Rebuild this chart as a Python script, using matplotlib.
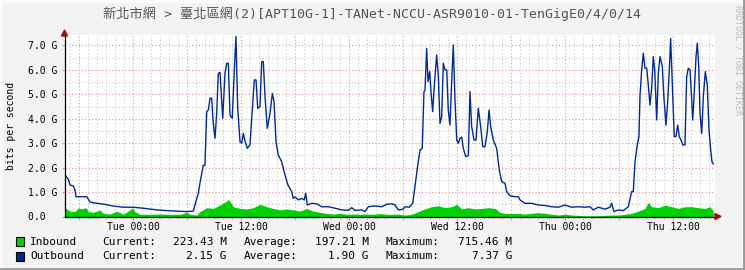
import numpy as np
import matplotlib
matplotlib.use("Agg")
import matplotlib.pyplot as plt
from matplotlib.patches import Rectangle, Polygon
from matplotlib.lines import Line2D
from matplotlib.ticker import MultipleLocator, FuncFormatter

# hours relative to Tue 00:00, values in Gbit/s
out_t = [-7.67, -7.19, -7.0, -6.63, -6.44, -6.33, -5.14, -4.78, -4.41, -3.33, -2.22, -1.11,
         0.0, 1.11, 2.67, 3.78, 4.89, 6.0, 6.7, 6.94, 7.26, 7.44, 7.81, 8.0, 8.19, 8.37,
         8.56, 8.74, 8.92, 9.11, 9.3, 9.48, 9.67, 9.97, 10.22, 10.41, 10.59, 10.78, 11.03,
         11.26, 11.44, 11.63, 11.89, 12.08, 12.26, 12.44, 12.7, 13.0, 13.3, 13.48, 13.67,
         13.86, 14.11, 14.3, 14.48, 14.67, 14.92, 15.22, 15.48, 15.67, 15.89, 16.14, 16.52,
         16.89, 17.22, 17.63, 17.81, 18.0, 18.37, 18.74, 19.03, 19.19, 19.37, 19.86, 20.41,
         20.97, 21.7, 22.44, 23.19, 23.92, 24.3, 24.67, 25.41, 25.78, 26.14, 26.89, 27.63,
         28.19, 28.74, 29.11, 29.48, 30.03, 30.22, 30.7, 31.08, 31.33, 31.59, 31.89, 32.14,
         32.33, 32.44, 32.63, 32.78, 32.97, 33.11, 33.3, 33.44, 33.74, 33.92, 34.11, 34.3,
         34.48, 34.67, 34.86, 35.03, 35.22, 35.41, 35.59, 35.78, 35.97, 36.14, 36.33, 36.52,
         36.7, 36.97, 37.26, 37.44, 37.63, 37.89, 38.11, 38.37, 38.63, 38.86, 39.11, 39.37,
         39.56, 39.74, 40.03, 40.41, 40.7, 40.97, 41.33, 41.52, 41.89, 42.44, 42.81, 43.0,
         43.56, 44.3, 45.03, 45.78, 46.52, 47.26, 48.0, 48.74, 49.48, 50.22, 50.78, 51.14,
         51.7, 52.44, 53.0, 53.19, 53.44, 53.92, 54.48, 55.03, 55.41, 55.59, 55.78, 56.03,
         56.22, 56.33, 56.52, 56.7, 56.89, 57.08, 57.26, 57.44, 57.63, 57.81, 57.97, 58.19,
         58.37, 58.56, 58.81, 59.0, 59.22, 59.41, 59.59, 59.74, 59.92, 60.03, 60.14, 60.33,
         60.52, 60.7, 60.89, 61.08, 61.33, 61.52, 61.7, 61.89, 62.08, 62.19, 62.33, 62.56,
         62.7, 62.86, 63.0, 63.19, 63.37, 63.59, 63.81, 64.0, 64.19, 64.33, 64.48]
out_v = [1.74, 1.53, 1.29, 1.25, 1.08, 0.81, 0.81, 0.6, 0.56, 0.51, 0.43, 0.38,
         0.38, 0.34, 0.27, 0.24, 0.22, 0.2, 0.22, 0.55, 0.95, 1.36, 2.1, 2.1, 4.29, 4.36,
         4.84, 4.84, 3.81, 3.2, 4.22, 5.86, 5.9, 4.02, 5.86, 6.27, 6.27, 4.15, 4.02,
         6.0, 7.37, 4.49, 3.06, 3.0, 3.4, 3.1, 2.79, 2.94, 4.56, 5.59, 5.59,
         4.43, 4.49, 6.34, 6.34, 4.9, 3.61, 4.2, 5.04, 4.7, 3.06, 2.52, 2.24,
         1.7, 1.29, 1.02, 0.74, 0.8, 0.68, 0.74, 0.68, 0.95, 0.47, 0.54, 0.52,
         0.4, 0.4, 0.34, 0.27, 0.25, 0.36, 0.25, 0.27, 0.2, 0.4, 0.43, 0.4,
         0.5, 0.52, 0.47, 0.27, 0.3, 0.4, 0.38, 0.54, 1.22, 1.97, 2.72, 2.79,
         5.11, 5.15, 6.88, 5.52, 5.93, 5.11, 4.29, 5.15, 6.61, 5.8, 3.81, 4.1,
         6.27, 6.0, 6.0, 4.36, 3.74, 5.52, 7.02, 4.77, 3.13, 3.0, 3.2, 3.25,
         2.79, 2.45, 2.5, 5.11, 3.68, 3.13, 3.13, 4.43, 3.68, 2.86, 2.86, 3.47,
         4.36, 3.68, 3.13, 2.79, 1.9, 1.43, 1.36, 1.02, 0.85, 0.81, 0.81, 0.68,
         0.54, 0.54, 0.47, 0.45, 0.4, 0.38, 0.47, 0.38, 0.4, 0.38, 0.4, 0.27,
         0.38, 0.3, 0.38, 0.54, 0.2, 0.27, 0.24, 0.4, 1.02, 1.02, 2.24, 2.93,
         3.27, 4.9, 6.0, 6.68, 6.07, 6.07, 5.38, 4.56, 5.25, 6.54, 6.0, 3.95,
         5.86, 6.54, 6.14, 4.84, 3.74, 4.7, 6.0, 7.29, 5.52, 4.49, 3.27, 3.27,
         3.74, 3.27, 3.13, 2.93, 2.93, 5.72, 6.07, 6.0, 4.77, 3.95, 4.84, 6.54,
         7.09, 6.14, 4.22, 3.4, 4.9, 5.93, 5.38, 3.54, 2.72, 2.24, 2.15]

in_t = [-7.67, -7.37, -7.0, -6.44, -6.08, -5.81, -5.52, -5.22, -4.97, -4.41, -3.67, -3.3,
        -2.56, -1.81, -1.08, -0.33, -0.03, 0.22, 0.78, 1.89, 3.0, 4.11, 5.22, 5.97, 6.33,
        7.08, 7.44, 8.19, 8.92, 9.67, 10.41, 10.59, 11.15, 11.89, 12.63, 13.37, 14.11,
        14.85, 15.59, 16.33, 17.08, 17.81, 18.56, 19.3, 20.03, 20.78, 21.52, 22.26, 23.0,
        23.74, 24.48, 25.22, 25.96, 26.7, 27.44, 28.19, 28.74, 29.48, 30.22, 30.97, 31.7,
        32.44, 33.19, 33.92, 34.67, 35.41, 35.97, 36.52, 37.26, 38.0, 38.74, 39.48, 40.22,
        40.78, 41.33, 42.08, 42.81, 43.56, 44.3, 45.03, 45.78, 46.52, 47.26, 48.0, 48.74,
        50.22, 51.7, 53.19, 53.92, 54.67, 55.41, 56.15, 56.89, 57.26, 57.63, 58.37, 59.11,
        59.85, 60.59, 61.33, 62.08, 62.82, 63.56, 64.11, 64.48]
in_v = [0.33, 0.31, 0.22, 0.2, 0.36, 0.31, 0.33, 0.36, 0.2, 0.17, 0.27, 0.13,
        0.1, 0.22, 0.09, 0.27, 0.36, 0.2, 0.09, 0.09, 0.1, 0.09, 0.09, 0.17, 0.09,
        0.06, 0.2, 0.36, 0.33, 0.47, 0.63, 0.7, 0.4, 0.33, 0.31, 0.36, 0.5,
        0.4, 0.33, 0.27, 0.31, 0.27, 0.22, 0.33, 0.22, 0.17, 0.13, 0.1, 0.13,
        0.09, 0.1, 0.09, 0.1, 0.09, 0.12, 0.09, 0.09, 0.1, 0.06, 0.09, 0.2,
        0.31, 0.4, 0.44, 0.36, 0.4, 0.5, 0.31, 0.36, 0.31, 0.33, 0.36, 0.33,
        0.17, 0.13, 0.12, 0.13, 0.1, 0.13, 0.16, 0.13, 0.09, 0.06, 0.09, 0.06,
        0.03, 0.03, 0.06, 0.06, 0.09, 0.13, 0.22, 0.33, 0.58, 0.4, 0.36, 0.47,
        0.4, 0.33, 0.4, 0.4, 0.36, 0.33, 0.4, 0.22]

day_labels = {0: "Tue 00:00", 12: "Tue 12:00", 24: "Wed 00:00",
              36: "Wed 12:00", 48: "Thu 00:00", 60: "Thu 12:00"}

title = "新北市網 > 臺北區網(2)[APT10G-1]-TANet-NCCU-ASR9010-01-TenGigE0/4/0/14"
legend_rows = [
    ("Inbound", "#00CF00", "223.43 M", "197.21 M", "715.46 M"),
    ("Outbound", "#002A97", "2.15 G", "1.90 G", "7.37 G"),
]

W, H = 745, 270
MONO = "DejaVu Sans Mono"


def fx(x):
    return x / W


def fy(y):
    return 1 - y / H


fig = plt.figure(figsize=(W / 100, H / 100), dpi=100, facecolor="#F3F3F3")

# plot area in pixels
x0, x1, ytop, ybot = 64.5, 715, 35, 216.5
ax = fig.add_axes([fx(x0), fy(ybot), fx(x1 - x0), (ybot - ytop) / H])
ax.set_facecolor("white")

t_per_px = 1 / 9.0
ax.set_xlim(-7.61, -7.61 + (x1 - x0) * t_per_px)
ax.set_ylim(0, (ybot - ytop) / 24.43)

ax.xaxis.set_major_locator(MultipleLocator(6))
ax.xaxis.set_minor_locator(MultipleLocator(1))
ax.yaxis.set_major_locator(MultipleLocator(1))
ax.yaxis.set_minor_locator(MultipleLocator(0.5))
ax.xaxis.set_major_formatter(FuncFormatter(lambda v, p: day_labels.get(int(round(v)), "")))
ax.yaxis.set_major_formatter(FuncFormatter(lambda v, p: "0.0  " if v == 0 else f"{v:.1f} G"))

ax.grid(which="major", color="#F09090", linestyle=(0, (1, 2)), linewidth=0.8)
ax.grid(which="minor", color="#C8C8C8", linestyle=(0, (1, 2)), linewidth=0.8)
ax.set_axisbelow(True)

ax.fill_between(in_t, 0, in_v, color="#00CF00", linewidth=0, zorder=3)
ax.plot(out_t, out_v, color="#002A97", linewidth=1.0, zorder=4)

for s in ["top", "right"]:
    ax.spines[s].set_visible(False)
for s in ["left", "bottom"]:
    ax.spines[s].set_color("#000000")
    ax.spines[s].set_linewidth(0.9)
    ax.spines[s].set_zorder(5)

ax.tick_params(axis="x", which="major", length=2, width=0.8, color="#F09090", pad=2,
               labelsize=7, labelfontfamily=MONO)
ax.tick_params(axis="x", which="minor", length=1.5, width=0.8, color="#C8C8C8")
ax.tick_params(axis="y", which="major", length=2, width=0.8, color="#F09090", pad=3,
               labelsize=7, labelfontfamily=MONO)
ax.tick_params(axis="y", which="minor", length=1.5, width=0.8, color="#C8C8C8")

# arrows at axis ends
fig.patches.append(Polygon([[fx(x0 - 3), fy(ytop + 1)], [fx(x0 + 3), fy(ytop + 1)], [fx(x0), fy(ytop - 5)]],
                           closed=True, transform=fig.transFigure, color="#A01010", zorder=10))
fig.patches.append(Polygon([[fx(x1), fy(ybot - 3)], [fx(x1), fy(ybot + 3)], [fx(x1 + 6), fy(ybot)]],
                           closed=True, transform=fig.transFigure, color="#A01010", zorder=10))

fig.text(fx(372), fy(14), title, ha="center", va="center", fontsize=9.5,
         color="#555555", family=[MONO, "Noto Sans CJK TC"])
fig.text(fx(11), fy(126), "bits per second", rotation=90, ha="center", va="center",
         fontsize=7, family=MONO, color="#000000")
fig.text(fx(738), fy(5), "RRDTOOL / TOBI OETIKER", rotation=270, ha="center", va="top",
         fontsize=6, family=MONO, color="#BEBEBE")

for i, (name, col, cur, avg, mx) in enumerate(legend_rows):
    yc = 241.7 + i * 14.5
    fig.patches.append(Rectangle((fx(15.5), fy(yc + 4.5)), fx(8), 9 / H, transform=fig.transFigure,
                                 facecolor=col, edgecolor="black", linewidth=0.8))
    kw = dict(va="center", fontsize=8, family=MONO, color="#000000")
    fig.text(fx(30), fy(yc), name, ha="left", **kw)
    fig.text(fx(102), fy(yc), "Current:", ha="left", **kw)
    fig.text(fx(227), fy(yc), cur, ha="right", **kw)
    fig.text(fx(244), fy(yc), "Average:", ha="left", **kw)
    fig.text(fx(369), fy(yc), avg, ha="right", **kw)
    fig.text(fx(385), fy(yc), "Maximum:", ha="left", **kw)
    fig.text(fx(512), fy(yc), mx, ha="right", **kw)

# canvas frame (light top/left, dark bottom/right)
fig.lines.append(Line2D([0, 1], [1 - 1 / H, 1 - 1 / H], transform=fig.transFigure, color="#FCFCFC", lw=2))
fig.lines.append(Line2D([1 / W, 1 / W], [0, 1], transform=fig.transFigure, color="#FCFCFC", lw=2))
fig.lines.append(Line2D([0, 1], [1.5 / H, 1.5 / H], transform=fig.transFigure, color="#9A9A9A", lw=2))
fig.lines.append(Line2D([1 - 1.5 / W, 1 - 1.5 / W], [0, 1], transform=fig.transFigure, color="#9A9A9A", lw=2))

fig.savefig("out.png", dpi=100, facecolor=fig.get_facecolor())
